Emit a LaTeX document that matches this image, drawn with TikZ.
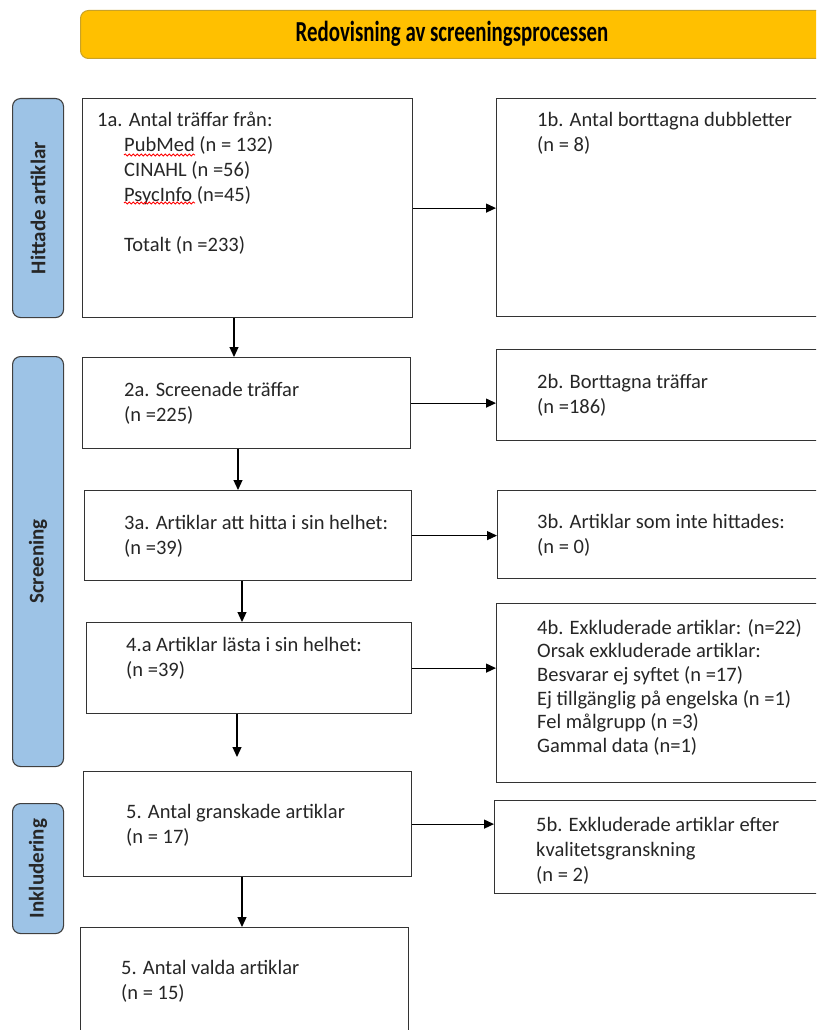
\documentclass[tikz,border=0pt]{standalone}
\usepackage{fontspec}
\usepackage{graphicx}
\setmainfont{Carlito}
\usetikzlibrary{positioning,arrows.meta,decorations.pathmorphing}
\definecolor{bannergold}{HTML}{FFC000}
\definecolor{bannerrim}{HTML}{C9A227}
\definecolor{phaseblue}{HTML}{9DC3E6}
\definecolor{rimgray}{HTML}{404040}
\definecolor{inkgray}{HTML}{262626}
\tikzset{
  box/.style={draw=black!80,line width=1.2pt,anchor=north west,inner sep=0pt},
  txt/.style={anchor=north west,inner sep=0pt,align=left,text=inkgray,
    font=\fontsize{20.5}{25}\selectfont},
  phase/.style={draw=rimgray,fill=phaseblue,line width=1.1pt,rounded corners=8pt,
    anchor=north west,inner sep=0pt,minimum width=51pt},
  phasetxt/.style={rotate=90,text=inkgray,font=\fontsize{21}{25}\selectfont\bfseries},
  arr/.style={line width=1.2pt,-{Triangle[length=10pt,width=9pt]}},
  squig/.style={red,line width=0.8pt,decorate,
    decoration={snake,amplitude=1.1pt,segment length=4pt}}
}
\newcommand{\ind}{\hspace*{27pt}}
\begin{document}
\begin{tikzpicture}[x=1pt,y=-1pt]
        \clip (0,0) rectangle (816,1030);
        \fill[white] (0,0) rectangle (816,1030);
        %% banner
        \node[draw=bannerrim,fill=bannergold,line width=1pt,rounded corners=8pt,
          anchor=north west,minimum width=746pt,minimum height=48pt,inner sep=0pt]
          (banner) at (80,10) {};
        \node[text=black,font=\fontsize{29}{30}\selectfont\bfseries] (bannertxt) at (452,34)
          {\scalebox{0.72}[1]{Redovisning av screeningsprocessen}};
        %% phases
        \node[phase,minimum height=219pt] (p1) at (12,98) {};
        \node[phasetxt] (p1txt) at (p1.center) {Hittade artiklar};
        \node[phase,minimum height=410pt] (p2) at (12,356) {};
        \node[phasetxt] (p2txt) at (p2.center) {Screening};
        \node[phase,minimum height=130pt] (p3) at (12,803) {};
        \node[phasetxt] (p3txt) at (p3.center) {Inkludering};
        %% left column
        \node[box,minimum width=330pt,minimum height=219pt] (b1a) at (82,98) {};
        \node[box,minimum width=328pt,minimum height=91pt] (b2a) at (82,357) {};
        \node[box,minimum width=327pt,minimum height=90pt] (b3a) at (84,490) {};
        \node[box,minimum width=325pt,minimum height=91pt] (b4a) at (86,622) {};
        \node[box,minimum width=328pt,minimum height=105pt] (b5a) at (83,771) {};
        \node[box,minimum width=328pt,minimum height=120pt] (b6a) at (80,927) {};
        %% right column
        \node[box,minimum width=340pt,minimum height=218pt] (b1b) at (496,98) {};
        \node[box,minimum width=340pt,minimum height=91pt] (b2b) at (496,349) {};
        \node[box,minimum width=340pt,minimum height=88pt] (b3b) at (497,490) {};
        \node[box,minimum width=340pt,minimum height=179pt] (b4b) at (496,603) {};
        \node[box,minimum width=342pt,minimum height=93pt] (b5b) at (494,800) {};
        %% texts
        \node[txt,below right=14pt and 15pt of b1a.north west] (t1a)
          {1a. Antal träffar från:\\ \ind PubMed (n = 132)\\ \ind CINAHL (n =56)\\
           \ind PsycInfo (n=45)\\[25pt] \ind Totalt (n =233)};
        \node[txt,below right=14pt and 41pt of b1b.north west] (t1b)
          {1b. Antal borttagna dubbletter\\(n = 8)};
        \node[txt,below right=25pt and 42pt of b2a.north west] (t2a)
          {2a. Screenade träffar\\(n =225)};
        \node[txt,below right=25pt and 41pt of b2b.north west] (t2b)
          {2b. Borttagna träffar\\(n =186)};
        \node[txt,below right=25pt and 40pt of b3a.north west] (t3a)
          {3a. Artiklar att hitta i sin helhet:\\(n =39)};
        \node[txt,below right=24pt and 40pt of b3b.north west] (t3b)
          {3b. Artiklar som inte hittades:\\(n = 0)};
        \node[txt,below right=15pt and 40pt of b4a.north west] (t4a)
          {4.a Artiklar lästa i sin helhet:\\(n =39)};
        \node[txt,below right=16pt and 41pt of b4b.north west,
          font=\fontsize{20.5}{23.6}\selectfont] (t4b)
          {4b. Exkluderade artiklar: (n=22)\\Orsak exkluderade artiklar:\\
           Besvarar ej syftet (n =17)\\Ej tillgänglig på engelska (n =1)\\
           Fel målgrupp (n =3)\\Gammal data (n=1)};
        \node[txt,below right=33pt and 43pt of b5a.north west] (t5a)
          {5. Antal granskade artiklar\\(n = 17)};
        \node[txt,below right=17pt and 42pt of b5b.north west] (t5b)
          {5b. Exkluderade artiklar efter\\kvalitetsgranskning\\(n = 2)};
        \node[txt,below right=33pt and 41pt of b6a.north west] (t6a)
          {5. Antal valda artiklar\\(n = 15)};
        %% spelling marks
        \draw[squig] (124,155) -- (195,155);
        \draw[squig] (124,203) -- (195,203);
        %% arrows to the right
        \draw[arr] (b1a.east) -- (b1a.east -| b1b.west);
        \draw[arr] (b2a.east) -- (b2a.east -| b2b.west);
        \draw[arr] (b3a.east) -- (b3a.east -| b3b.west);
        \draw[arr] (b4a.east) -- (b4a.east -| b4b.west);
        \draw[arr] (b5a.east) -- (b5a.east -| b5b.west);
        %% arrows down
        \coordinate (gapend) at (237,757);
        \draw[arr] (234,0 |- b1a.south) -- (234,0 |- b2a.north);
        \draw[arr] (238,0 |- b2a.south) -- (238,0 |- b3a.north);
        \draw[arr] (242,0 |- b3a.south) -- (242,0 |- b4a.north);
        \draw[arr] (237,0 |- b4a.south) -- (gapend);
        \draw[arr] (242,0 |- b5a.south) -- (242,0 |- b6a.north);
\end{tikzpicture}
\end{document}
